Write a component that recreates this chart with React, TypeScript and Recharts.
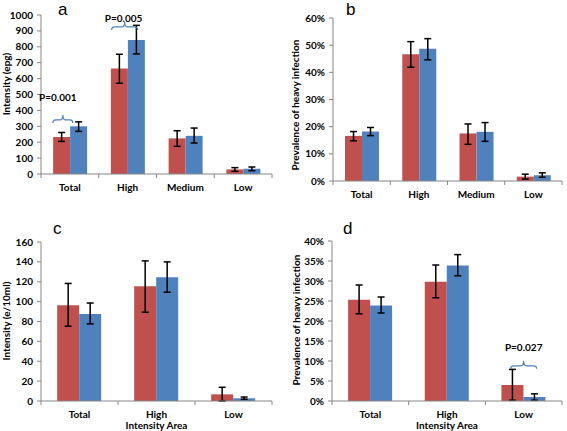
import React from "react";
import { BarChart, Bar, XAxis, YAxis, ErrorBar, ReferenceDot } from "recharts";

const areasAB = ["Total", "High", "Medium", "Low"];
const areasCD = ["Total", "High", "Low"];

// panel a: intensity (epg)
const aRed = [233, 663, 224, 29];
const aRedErr = [[28, 28], [92, 90], [50, 48], [12, 11]];
const aBlue = [300, 843, 240, 33];
const aBlueErr = [[32, 28], [88, 92], [45, 49], [12, 11]];
const aTicks = [0, 100, 200, 300, 400, 500, 600, 700, 800, 900, 1000];

// panel b: prevalence of heavy infection (%)
const bRed = [16.6, 46.7, 17.5, 1.6];
const bRedErr = [[1.8, 1.6], [4.8, 4.6], [4.0, 3.5], [0.9, 0.9]];
const bBlue = [18.2, 48.7, 18.1, 2.1];
const bBlueErr = [[1.5, 1.5], [4.1, 3.7], [3.5, 3.4], [0.7, 0.9]];
const bTicks = [0, 10, 20, 30, 40, 50, 60];

// panel c: intensity (e/10ml)
const cRed = [96.3, 115.4, 6.7];
const cRedErr = [[21, 22], [26, 25.6], [6.7, 7.1]];
const cBlue = [87.6, 124.5, 2.7];
const cBlueErr = [[10, 11], [15, 15.5], [1, 1.3]];
const cTicks = [0, 20, 40, 60, 80, 100, 120, 140, 160];

// panel d: prevalence of heavy infection (%)
const dRed = [25.3, 29.8, 4.0];
const dRedErr = [[3.5, 3.7], [4.0, 4.2], [3.8, 3.9]];
const dBlue = [23.9, 33.9, 1.0];
const dBlueErr = [[1.9, 2.1], [2.6, 2.7], [0.8, 0.8]];
const dTicks = [0, 5, 10, 15, 20, 25, 30, 35, 40];

const RED = "#C0504D";
const BLUE = "#4F81BD";
const AXIS = "#868686";
const FONT = "Lato, 'Liberation Sans', sans-serif";

const rows = (cats: string[], red: number[], redErr: number[][], blue: number[], blueErr: number[][]) =>
  cats.map((name, i) => ({ name, red: red[i], redErr: redErr[i], blue: blue[i], blueErr: blueErr[i] }));

const dataA = rows(areasAB, aRed, aRedErr, aBlue, aBlueErr);
const dataB = rows(areasAB, bRed, bRedErr, bBlue, bBlueErr);
const dataC = rows(areasCD, cRed, cRedErr, cBlue, cBlueErr);
const dataD = rows(areasCD, dRed, dRedErr, dBlue, dBlueErr);

// category label plus Excel-style tick marks at category boundaries
const catTick = (band: number, count: number) => (props: any) => {
  const { x, y, payload, index } = props;
  const left = x - band / 2;
  return (
    <g>
      <line x1={left} y1={y} x2={left} y2={y + 4} stroke={AXIS} />
      {index === count - 1 && <line x1={left + band} y1={y} x2={left + band} y2={y + 4} stroke={AXIS} />}
      <text x={x} y={y + 17} textAnchor="middle" fontSize={10} fontWeight="bold" fontFamily={FONT} fill="#000">
        {payload.value}
      </text>
    </g>
  );
};

const yTitle = (text: string, cx: number, cy: number) => () => (
  <text x={cx} y={cy} transform={`rotate(-90 ${cx} ${cy})`} textAnchor="middle" dominantBaseline="central"
    fontSize={10} fontWeight="bold" fontFamily={FONT} fill="#000">
    {text}
  </text>
);

const brace = (half: number, dx = 0) => (props: any) => {
  const cx = props.cx + dx;
  const cy = props.cy;
  const d = `M${cx - half},${cy + 3} Q${cx - half},${cy} ${cx - half + 3},${cy} L${cx - 3},${cy} Q${cx},${cy} ${cx},${cy - 5} Q${cx},${cy} ${cx + 3},${cy} L${cx + half - 3},${cy} Q${cx + half},${cy} ${cx + half},${cy + 3}`;
  return <path d={d} fill="none" stroke={BLUE} strokeWidth={1.2} />;
};

const pText = (label: string, dx = 0) => (props: any) => (
  <text x={props.cx + dx} y={props.cy} textAnchor="middle" dominantBaseline="central" fontSize={10}
    fontWeight="bold" fontFamily={FONT} fill="#000">
    {label}
  </text>
);

const panelTitle = (t: string, x: number, y: number) => (
  <div style={{ position: "absolute", left: x, top: y, fontFamily: "'Liberation Sans', Arial, sans-serif", fontSize: 17, lineHeight: "20px" }}>
    {t}
  </div>
);

const tickStyle = { fontSize: 10, fontWeight: "bold", fill: "#000", fontFamily: FONT };

export default function App() {
  const bandA = 231 / 4;
  const bandB = 229 / 4;
  const bandC = 231 / 3;
  const bandD = 230 / 3;
  return (
    <div style={{ position: "absolute", left: 0, top: 0, width: 567, height: 431, background: "#fff" }}>
      <div style={{ position: "absolute", left: 0, top: 0 }}>
        <BarChart width={283} height={215} data={dataA} margin={{ top: 15, right: 11, left: 0, bottom: 11 }}
          barGap={0} barCategoryGap="21%">
          <XAxis dataKey="name" height={30} axisLine={{ stroke: AXIS }} tickLine={false} tickSize={0} tickMargin={0}
            interval={0} tick={catTick(bandA, 4)} />
          <YAxis width={41} domain={[0, 1000]} ticks={aTicks} interval={0} tick={tickStyle} tickSize={4} tickMargin={4}
            axisLine={{ stroke: AXIS }} tickLine={{ stroke: AXIS }} label={{ content: yTitle("Intensity (epg)", 6, 84) }} />
          <Bar dataKey="red" fill={RED} isAnimationActive={false}>
            <ErrorBar dataKey="redErr" width={3.5} stroke="#000" strokeWidth={1.5} />
          </Bar>
          <Bar dataKey="blue" fill={BLUE} isAnimationActive={false}>
            <ErrorBar dataKey="blueErr" width={3.5} stroke="#000" strokeWidth={1.5} />
          </Bar>
          <ReferenceDot x="Total" y={340} shape={brace(10, -7)} />
          <ReferenceDot x="Total" y={484} shape={pText("P=0.001", -12)} />
          <ReferenceDot x="High" y={925} shape={brace(13, -3)} />
          <ReferenceDot x="High" y={978} shape={pText("P=0.005", -4)} />
        </BarChart>
      </div>
      <div style={{ position: "absolute", left: 283, top: 0 }}>
        <BarChart width={284} height={215} data={dataB} margin={{ top: 18, right: 5, left: 0, bottom: 4 }}
          barGap={0} barCategoryGap="21%">
          <XAxis dataKey="name" height={30} axisLine={{ stroke: AXIS }} tickLine={false} tickSize={0} tickMargin={0}
            interval={0} tick={catTick(bandB, 4)} />
          <YAxis width={50} domain={[0, 60]} ticks={bTicks} interval={0} tick={tickStyle} tickSize={4} tickMargin={4}
            tickFormatter={(v: number) => `${v}%`} axisLine={{ stroke: AXIS }} tickLine={{ stroke: AXIS }}
            label={{ content: yTitle("Prevalence of heavy infection", 12, 105) }} />
          <Bar dataKey="red" fill={RED} isAnimationActive={false}>
            <ErrorBar dataKey="redErr" width={3.5} stroke="#000" strokeWidth={1.5} />
          </Bar>
          <Bar dataKey="blue" fill={BLUE} isAnimationActive={false}>
            <ErrorBar dataKey="blueErr" width={3.5} stroke="#000" strokeWidth={1.5} />
          </Bar>
        </BarChart>
      </div>
      <div style={{ position: "absolute", left: 0, top: 215 }}>
        <BarChart width={283} height={216} data={dataC} margin={{ top: 27, right: 11, left: 0, bottom: 0 }}
          barGap={0} barCategoryGap="21%">
          <XAxis dataKey="name" height={30} axisLine={{ stroke: AXIS }} tickLine={false} tickSize={0} tickMargin={0}
            interval={0} tick={catTick(bandC, 3)}
            label={{ value: "Intensity Area", position: "insideBottom", offset: 2, style: tickStyle }} />
          <YAxis width={41} domain={[0, 160]} ticks={cTicks} interval={0} tick={tickStyle} tickSize={4} tickMargin={4}
            axisLine={{ stroke: AXIS }} tickLine={{ stroke: AXIS }} label={{ content: yTitle("Intensity (e/10ml)", 6, 106) }} />
          <Bar dataKey="red" fill={RED} isAnimationActive={false}>
            <ErrorBar dataKey="redErr" width={3.5} stroke="#000" strokeWidth={1.5} />
          </Bar>
          <Bar dataKey="blue" fill={BLUE} isAnimationActive={false}>
            <ErrorBar dataKey="blueErr" width={3.5} stroke="#000" strokeWidth={1.5} />
          </Bar>
        </BarChart>
      </div>
      <div style={{ position: "absolute", left: 283, top: 215 }}>
        <BarChart width={284} height={216} data={dataD} margin={{ top: 26, right: 5, left: 0, bottom: 0 }}
          barGap={0} barCategoryGap="21%">
          <XAxis dataKey="name" height={30} axisLine={{ stroke: AXIS }} tickLine={false} tickSize={0} tickMargin={0}
            interval={0} tick={catTick(bandD, 3)}
            label={{ value: "Intensity Area", position: "insideBottom", offset: 2, style: tickStyle }} />
          <YAxis width={49} domain={[0, 40]} ticks={dTicks} interval={0} tick={tickStyle} tickSize={4} tickMargin={4}
            tickFormatter={(v: number) => `${v}%`} axisLine={{ stroke: AXIS }} tickLine={{ stroke: AXIS }}
            label={{ content: yTitle("Prevalence of heavy infection", 13, 105) }} />
          <Bar dataKey="red" fill={RED} isAnimationActive={false}>
            <ErrorBar dataKey="redErr" width={3.5} stroke="#000" strokeWidth={1.5} />
          </Bar>
          <Bar dataKey="blue" fill={BLUE} isAnimationActive={false}>
            <ErrorBar dataKey="blueErr" width={3.5} stroke="#000" strokeWidth={1.5} />
          </Bar>
          <ReferenceDot x="Low" y={8.8} shape={brace(13)} />
          <ReferenceDot x="Low" y={13.5} shape={pText("P=0.027")} />
        </BarChart>
      </div>
      {panelTitle("a", 58, 0)}
      {panelTitle("b", 346, 0)}
      {panelTitle("c", 53, 219)}
      {panelTitle("d", 343, 219)}
    </div>
  );
}
